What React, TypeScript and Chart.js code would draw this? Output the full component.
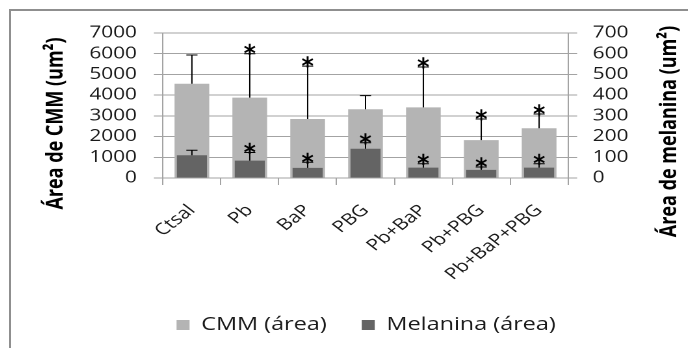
import React, { useEffect, useRef } from "react";
import { Chart, registerables } from "chart.js";

Chart.register(...registerables);

const categories = ["Ctsal", "Pb", "BaP", "PBG", "Pb+BaP", "Pb+PBG", "Pb+BaP+PBG"];
const cmmValues = [4550, 3880, 2850, 3320, 3410, 1830, 2400];
const cmmErrors = [1390, 2120, 2550, 655, 1950, 1020, 690];
const cmmSignificant = [false, true, true, false, true, true, true];
const melValues = [110, 84, 49, 141, 50, 39, 50];
const melErrors = [24, 39, 27, 29, 19, 14, 19];
const melSignificant = [false, true, true, true, true, true, true];
const seriesNames = ["CMM (área)", "Melanina (área)"];
const leftTitle = "Área de CMM (um²)";
const rightTitle = "Área de melanina (um²)";
const leftMax = 7000;
const leftStep = 1000;
const rightMax = 700;
const rightStep = 100;

const FONT = "'Open Sans', 'DejaVu Sans', sans-serif";
const STAR_FONT = "bold 18px 'DejaVu Sans', sans-serif";
const STRETCH = 1.3;
const LOGICAL_W = 529;
const LOGICAL_H = 340;

const errorBarPlugin = {
  id: "errorBars",
  afterDatasetsDraw(chart: any) {
    const ctx = chart.ctx;
    const sets = [
      { di: 0, errs: cmmErrors, sig: cmmSignificant, axis: "y" },
      { di: 1, errs: melErrors, sig: melSignificant, axis: "y1" },
    ];
    ctx.save();
    sets.forEach((s) => {
      const meta = chart.getDatasetMeta(s.di);
      const scale = chart.scales[s.axis];
      const values = chart.data.datasets[s.di].data as number[];
      meta.data.forEach((bar: any, i: number) => {
        const x = bar.x;
        const y0 = scale.getPixelForValue(values[i]);
        const y1 = scale.getPixelForValue(values[i] + s.errs[i]);
        ctx.strokeStyle = "#000";
        ctx.lineWidth = 1;
        ctx.beginPath();
        ctx.moveTo(x, y0);
        ctx.lineTo(x, y1);
        ctx.moveTo(x - 4.3, y1);
        ctx.lineTo(x + 4.3, y1);
        ctx.stroke();
        if (s.sig[i]) {
          ctx.save();
          ctx.fillStyle = "#000";
          ctx.font = STAR_FONT;
          ctx.textAlign = "center";
          ctx.textBaseline = "alphabetic";
          ctx.translate(x, y1 + 8);
          ctx.scale(1, 1.35);
          ctx.fillText("*", 0, 0);
          ctx.restore();
        }
      });
    });
    ctx.restore();
  },
};

const titlePlugin = {
  id: "sideTitles",
  afterDraw(chart: any) {
    const ctx = chart.ctx;
    const draw = (text: string, x: number, y: number) => {
      ctx.save();
      ctx.fillStyle = "#000";
      ctx.font = `bold 18px ${FONT}`;
      ctx.textAlign = "center";
      ctx.textBaseline = "middle";
      ctx.translate(x, y);
      ctx.rotate(-Math.PI / 2);
      ctx.fillText(text, 0, 0);
      ctx.restore();
    };
    draw(leftTitle, 37, 115.5);
    draw(rightTitle, 509, 123.5);
  },
};

export default function App() {
  const canvasRef = useRef<HTMLCanvasElement | null>(null);

  useEffect(() => {
    if (!canvasRef.current) return;
    const gridColor = "#a3a3a3";
    const chart = new Chart(canvasRef.current, {
      type: "bar",
      data: {
        labels: categories,
        datasets: [
          {
            label: seriesNames[0],
            data: cmmValues,
            backgroundColor: "#b4b4b4",
            yAxisID: "y",
            grouped: false,
            order: 2,
            barPercentage: 0.6,
            categoryPercentage: 1,
          } as any,
          {
            label: seriesNames[1],
            data: melValues,
            backgroundColor: "#646464",
            yAxisID: "y1",
            grouped: false,
            order: 1,
            barPercentage: 0.52,
            categoryPercentage: 1,
          } as any,
        ],
      },
      options: {
        animation: false,
        responsive: true,
        maintainAspectRatio: false,
        devicePixelRatio: 2,
        layout: { padding: { left: 22, right: 0, top: 25, bottom: 4 } },
        plugins: {
          legend: {
            position: "bottom",
            labels: {
              boxWidth: 10,
              boxHeight: 10,
              padding: 27,
              color: "#1a1a1a",
              font: { family: FONT, size: 18 },
              sort: (a: any, b: any) => a.datasetIndex - b.datasetIndex,
            },
          },
          tooltip: { enabled: false },
        },
        scales: {
          x: {
            offset: true,
            grid: {
              offset: true,
              drawOnChartArea: false,
              drawTicks: true,
              tickLength: 7,
              color: gridColor,
            },
            border: { color: gridColor },
            ticks: {
              minRotation: 45,
              maxRotation: 45,
              autoSkip: false,
              padding: 16,
              color: "#1a1a1a",
              font: { family: FONT, size: 16 },
            },
            afterFit: (s: any) => {
              s.height = 111;
            },
          },
          y: {
            position: "left",
            min: 0,
            max: leftMax,
            ticks: {
              stepSize: leftStep,
              autoSkip: false,
              padding: 13,
              color: "#1a1a1a",
              font: { family: FONT, size: 16 },
              callback: (v: any) => String(v),
            },
            grid: { color: gridColor, tickLength: 7 },
            border: { color: gridColor },
            afterFit: (s: any) => {
              s.width = 119.2 - 22;
            },
          },
          y1: {
            position: "right",
            min: 0,
            max: rightMax,
            ticks: {
              stepSize: rightStep,
              autoSkip: false,
              padding: 12,
              color: "#1a1a1a",
              font: { family: FONT, size: 16 },
              callback: (v: any) => String(v),
            },
            grid: { drawOnChartArea: false, color: gridColor, tickLength: 7 },
            border: { color: gridColor },
            afterFit: (s: any) => {
              s.width = LOGICAL_W - 430.8;
            },
          },
        },
      },
      plugins: [errorBarPlugin, titlePlugin],
    });
    return () => chart.destroy();
  }, []);

  return (
    <div style={{ position: "relative", width: 680, height: LOGICAL_H, overflow: "hidden" }}>
      <div
        style={{
          position: "absolute",
          left: 1,
          top: 1,
          width: 900,
          height: 600,
          border: "2px solid #8f8f8f",
        }}
      />
      <div
        style={{
          position: "absolute",
          left: 0,
          top: 0,
          width: LOGICAL_W,
          height: LOGICAL_H,
          transform: `scaleX(${STRETCH})`,
          transformOrigin: "0 0",
        }}
      >
        <canvas ref={canvasRef} />
      </div>
    </div>
  );
}
